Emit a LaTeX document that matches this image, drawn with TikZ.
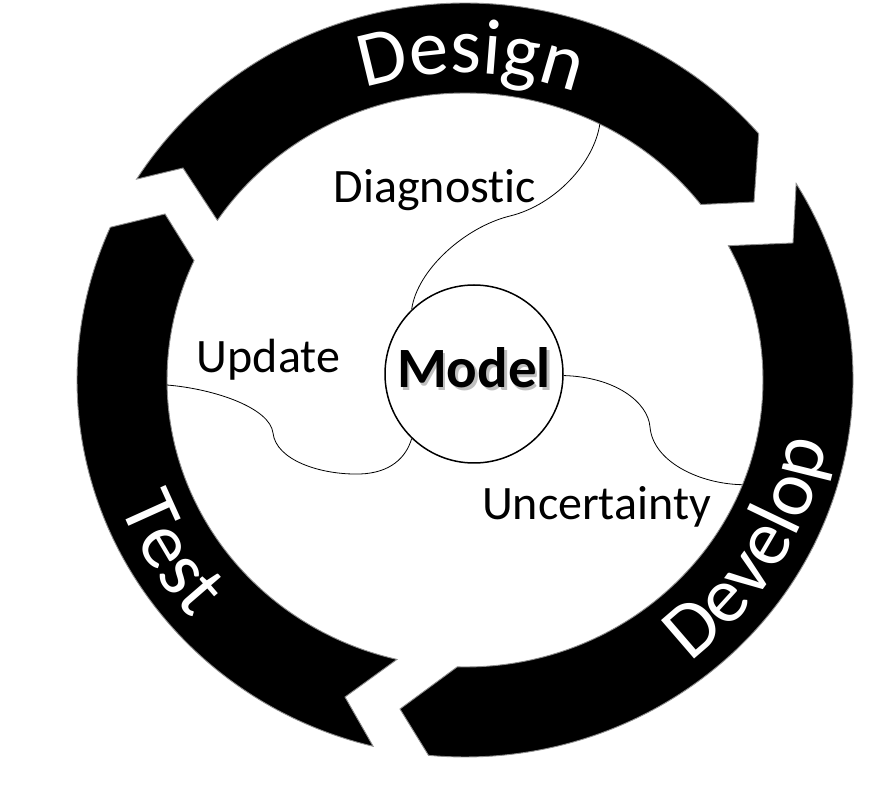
\documentclass[tikz,border=0pt]{standalone}
\usepackage{fontspec}
\setmainfont{Carlito}[Ligatures=NoCommon]
\usetikzlibrary{decorations.text}
\newcommand{\ringfont}{\fontsize{79}{80}\selectfont\color{white}}
\begin{document}
\begin{tikzpicture}[x=1pt,y=1pt]
\tikzset{
  seg/.style={fill=black, draw=black!45, line width=0.9pt, line join=miter},
  link/.style={draw=black, line width=0.8pt},
  lbl/.style={font=\fontsize{48}{50}\selectfont, anchor=base, inner sep=0pt},
  modelfont/.style={font=\fontsize{57}{58}\selectfont\bfseries, anchor=base, inner sep=0pt},
  ringtext/.style={decorate, decoration={text along path, text align=center, text={|\ringfont|#1}}}
}
\useasboundingbox (0,0) rectangle (895,788);
\fill[white] (0,0) rectangle (895,788);

% chevron tips and notches
\coordinate (dtip) at (754,586);
\coordinate (dnotch) at (183,620);
\coordinate (vtip) at (400,79);
\coordinate (vnotch) at (793,545);
\coordinate (ttip) at (165,574);
\coordinate (tnotch) at (345,91);

% Design segment
\path[seg] ({465+388*cos(147.8)},{408+377*sin(147.8)})
  arc[start angle=147.8, end angle=40.8, x radius=388pt, y radius=377pt]
  -- (dtip) -- ({465+298*cos(37.7)},{408+287*sin(37.7)})
  arc[start angle=37.7, end angle=146.2, x radius=298pt, y radius=287pt]
  -- (dnotch) -- cycle;
% Develop segment
\path[seg] ({465+388*cos(31.4)},{408+377*sin(31.4)})
  arc[start angle=31.4, end angle=-95.4, x radius=388pt, y radius=377pt]
  -- (vtip) -- ({465+298*cos(-91.5)},{408+287*sin(-91.5)})
  arc[start angle=-91.5, end angle=27.9, x radius=298pt, y radius=287pt]
  -- (vnotch) -- cycle;
% Test segment
\path[seg] ({465+388*cos(256.3)},{408+377*sin(256.3)})
  arc[start angle=256.3, end angle=156.1, x radius=388pt, y radius=377pt]
  -- (ttip) -- ({465+298*cos(155.4)},{408+287*sin(155.4)})
  arc[start angle=155.4, end angle=256.8, x radius=298pt, y radius=287pt]
  -- (tnotch) -- cycle;

% ring labels
\path[ringtext=Design] ({465+318*cos(129)},{408+307*sin(129)})
  arc[start angle=129, end angle=49, x radius=318pt, y radius=307pt];
\path[ringtext=Develop] ({465+368*cos(-71)},{408+357*sin(-71)})
  arc[start angle=-71, end angle=9, x radius=368pt, y radius=357pt];
\path[ringtext=Test] ({465+368*cos(171)},{408+357*sin(171)})
  arc[start angle=171, end angle=251, x radius=368pt, y radius=357pt];

% model
\node[circle, draw=black, line width=1.5pt, minimum size=178pt, inner sep=0pt] (model) at (474,414) {};
\node[modelfont, text=black!55, opacity=0.45] (modelshadow) at (476.5,397) {Model};
\node[modelfont] (modeltext) at (474,400) {Model};

% ring anchor points for links
\coordinate (rdiag) at ({465+298*cos(63.1)},{408+287*sin(63.1)});
\coordinate (rupd) at ({465+298*cos(181)},{408+287*sin(181)});
\coordinate (runc) at ({465+298*cos(-21.4)},{408+287*sin(-21.4)});

% links
\draw[link] (model.134) .. controls (417,518) and (465,561) .. (510,572)
  .. controls (555,583) and (594,625) .. (rdiag);
\draw[link] (rupd) .. controls (215,399) and (270,380) .. (273,355)
  .. controls (276,328) and (320,313) .. (360,314)
  .. controls (390,315) and (406,330) .. (model.226);
\draw[link] (model.-1) .. controls (615,411) and (648,386) .. (650,361)
  .. controls (653,326) and (700,304) .. (runc);

% labels
\node[lbl] (ldiag) at (435,585) {Diagnostic};
\node[lbl] (lupd) at (268.5,415) {Update};
\node[lbl] (lunc) at (596.5,268) {Uncertainty};
\end{tikzpicture}
\end{document}
